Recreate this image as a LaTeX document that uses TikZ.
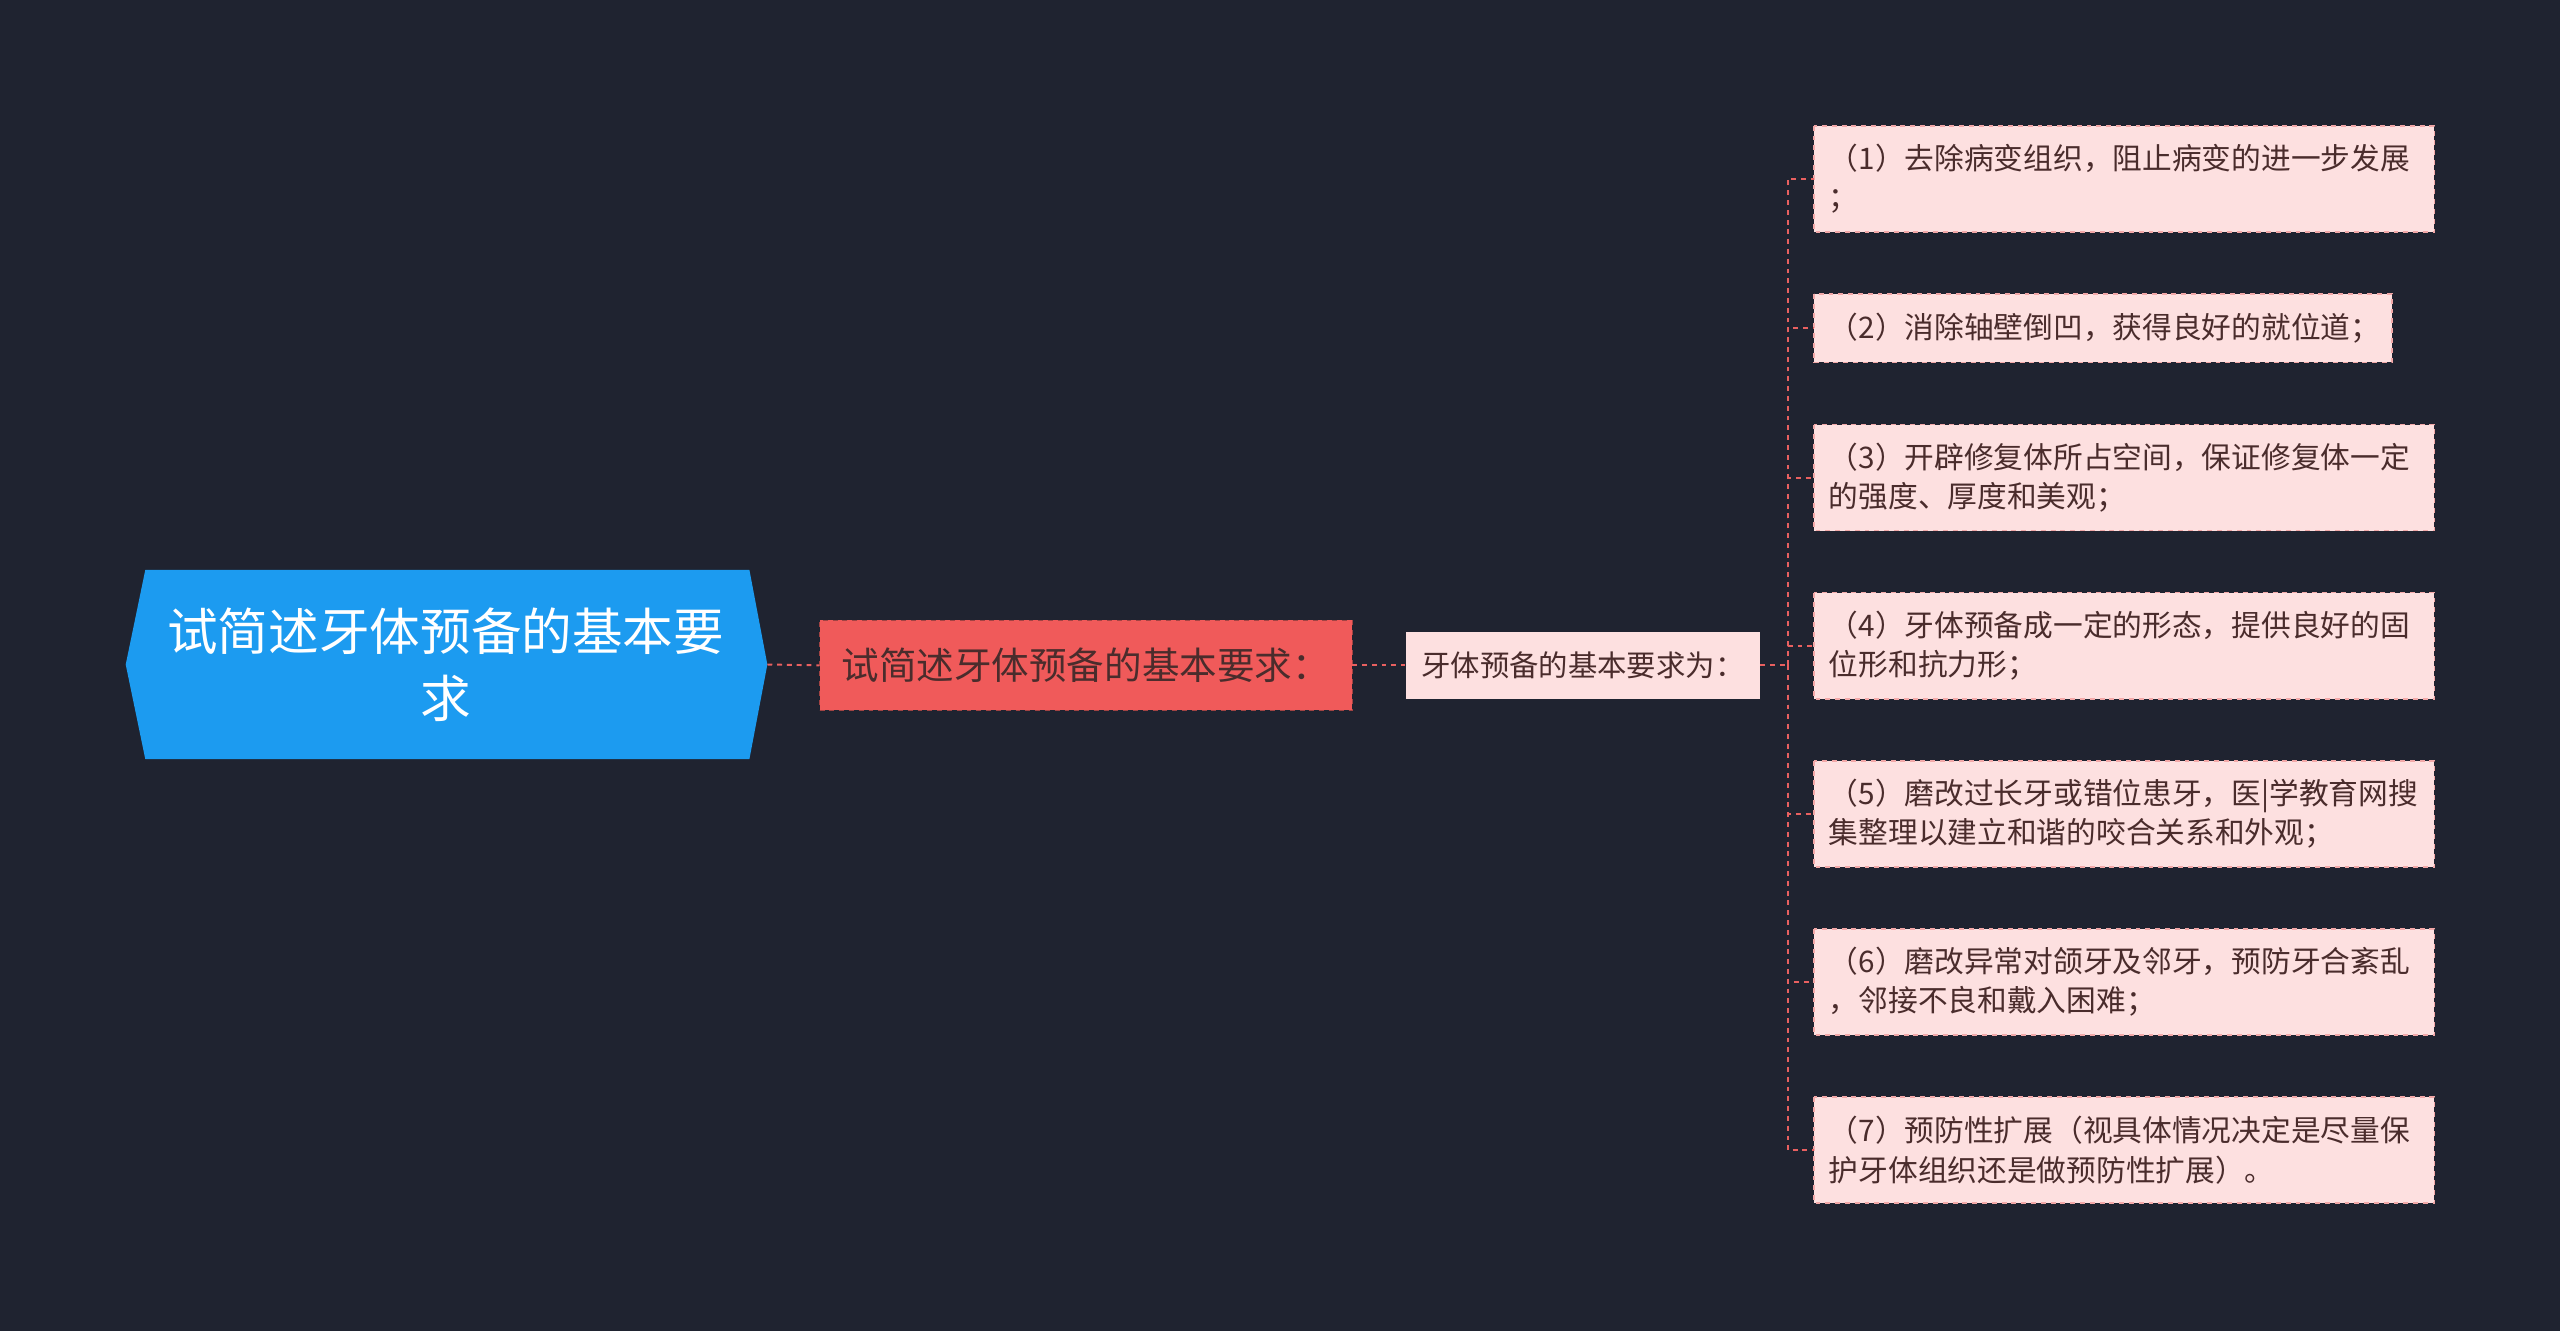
\documentclass[tikz,border=0pt]{standalone}
\usepackage{fontspec}
\setmainfont{Noto Sans CJK SC}
\usetikzlibrary{calc}
\definecolor{bg}{HTML}{1F2330}
\definecolor{rootc}{HTML}{1C9BF0}
\definecolor{midc}{HTML}{F05A5A}
\definecolor{leafc}{HTML}{FDE0E0}
\definecolor{linec}{HTML}{E86060}
\definecolor{txt}{HTML}{4A2C2C}
\tikzset{
 conn/.style={draw=linec, dashed, line width=1.2pt},
 leafbox/.style={draw=linec!55, dashed, line width=1pt, fill=leafc},
 leaftxt/.style={text=txt, font=\fontsize{18.2}{24}\selectfont, align=left, anchor=west, inner sep=0pt},
}
\begin{document}
\begin{tikzpicture}[x=1pt,y=-1pt]
\fill[bg] (0,0) rectangle (1568,815);
\useasboundingbox (0,0) rectangle (1568,815);
% root
\fill[rootc] (89,349) -- (459,349) -- (470,407) -- (459,465) -- (89,465) -- (77,407) -- cycle;
\node[text=white, font=\fontsize{31}{41}\selectfont, align=center] (root) at (273,407) {试简述牙体预备的基本要\\求};
\coordinate (rootR) at (470,407);
% mid
\node[fill=midc, draw=linec!70!black, dashed, minimum width=326pt, minimum height=55pt, inner sep=0pt, text=txt, font=\fontsize{23}{28}\selectfont] (mid) at (665,407.5) {试简述牙体预备的基本要求：};
% second
\node[fill=leafc, minimum width=217pt, minimum height=41pt, inner sep=0pt, text=txt, font=\fontsize{18}{23}\selectfont] (sec) at (969.5,407.5) {牙体预备的基本要求为：};
\draw[conn] (rootR) -- (mid.west);
\draw[conn] (mid.east) -- (sec.west);
\coordinate (trunk) at (1095,407.5);
\draw[conn] (sec.east) -- (trunk);
% leaves
\foreach \i/\y/\h/\w/\t in {
1/77/65/380/{（1）去除病变组织，阻止病变的进一步发展\\；},
2/180/42/354/{（2）消除轴壁倒凹，获得良好的就位道；},
3/260/65/380/{（3）开辟修复体所占空间，保证修复体一定\\的强度、厚度和美观；},
4/363/65/380/{（4）牙体预备成一定的形态，提供良好的固\\位形和抗力形；},
5/466/65/380/{（5）磨改过长牙或错位患牙，医|学教育网搜\\集整理以建立和谐的咬合关系和外观；},
6/569/65/380/{（6）磨改异常对颌牙及邻牙，预防牙合紊乱\\，邻接不良和戴入困难；},
7/672/65/380/{（7）预防性扩展（视具体情况决定是尽量保\\护牙体组织还是做预防性扩展）。}}{
 \draw[leafbox] (1111,\y) rectangle ++(\w,\h);
 \node[leaftxt] (l\i) at (1120,\y+\h/2) {\t};
 \coordinate (c\i) at (1111,\y+\h/2);
 \draw[conn] (trunk) |- (c\i);
}
\end{tikzpicture}
\end{document}
